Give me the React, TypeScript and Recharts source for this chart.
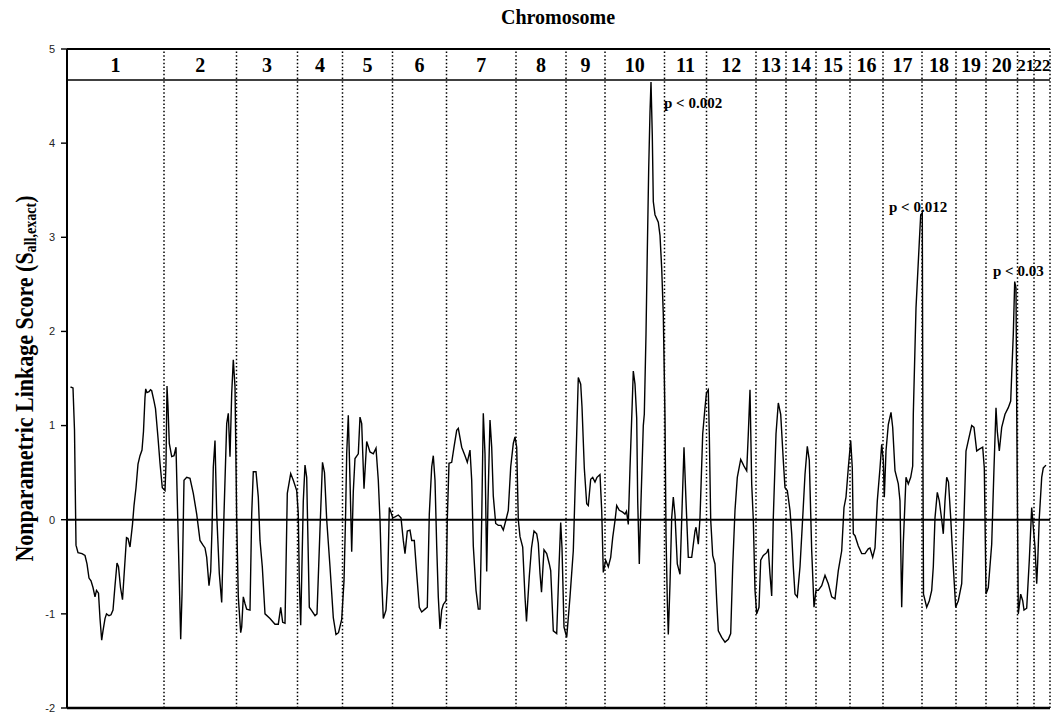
import { LineChart, Line, XAxis, YAxis, ReferenceLine, ReferenceArea, ReferenceDot } from 'recharts';

const SERIF = "'Liberation Serif', 'Times New Roman', serif";

// chromosome names and their widths on the map axis
const chromosomes = ['1', '2', '3', '4', '5', '6', '7', '8', '9', '10', '11', '12', '13', '14', '15', '16', '17', '18', '19', '20', '21', '22'];
const chromLengths = [97, 72.5, 61, 45, 50, 54, 69.5, 50, 39, 59.5, 42, 49.5, 30, 30, 34, 33, 39, 34, 30, 31.5, 16.5, 16];

const yTicks = [-2, -1, 0, 1, 2, 3, 4, 5];
const bandFloor = 4.67;

// [map position, NPL score]
const nplTrace: [number, number][] = [
  // chr 1
  [3.5, 1.41], [6, 1.4], [7.5, 0.95], [9, -0.27], [11, -0.35], [15, -0.36], [18, -0.38], [20, -0.47], [22, -0.62],
  [24, -0.65], [26, -0.72], [28, -0.82], [29.5, -0.75], [31.5, -0.78], [33, -1.05], [34.7, -1.28], [36, -1.18],
  [38, -1.05], [39.5, -1.0], [42, -1.02], [44, -1.01], [46, -0.96], [48, -0.7], [50, -0.46], [51.5, -0.5],
  [53.5, -0.72], [55.5, -0.85], [57, -0.6], [59.5, -0.19], [61, -0.2], [63, -0.29], [65.5, -0.05], [67, 0.15],
  [69, 0.34], [71, 0.59], [73, 0.68], [75, 0.74], [76.5, 0.94], [78, 1.3], [78.7, 1.39], [80, 1.35], [82, 1.36],
  [83.5, 1.38], [84.7, 1.37], [87, 1.26], [88.5, 1.18], [91, 0.87], [93, 0.6], [95.3, 0.34], [98, 0.31],
  // chr 2
  [99, 0.6], [100, 1.42], [101, 1.2], [102.3, 0.81], [104.7, 0.67], [107, 0.68], [109, 0.77], [110.3, 0.2],
  [112.3, -0.65], [113.7, -1.27], [115, -0.8], [117, 0.42], [119.7, 0.45], [123, 0.44], [126.3, 0.28],
  [129.7, 0.06], [133, -0.22], [136, -0.27], [138, -0.3], [139.7, -0.4], [142, -0.7], [143.7, -0.55],
  [145, -0.1], [146.3, 0.56], [148, 0.84], [149.7, 0.06], [152.3, -0.57], [154.7, -0.88], [157, 0.06],
  [159.7, 1.02], [161.3, 1.13], [163, 0.67], [164.7, 1.34], [166.3, 1.7], [168, 1.41], [169.7, 0.0],
  [171.3, -0.82], [173.7, -1.2],
  // chr 3
  [174.7, -1.14], [176.3, -0.82], [178, -0.89], [179.7, -0.95], [183, -0.96], [184.7, 0.06], [186.3, 0.51],
  [189, 0.51], [191.3, 0.24], [193, -0.22], [195.3, -0.5], [198, -1.0], [203, -1.05], [208, -1.11],
  [211.3, -1.11], [213.7, -0.93], [215.7, -1.09], [218, -1.1], [220.3, 0.28], [223.7, 0.49], [226.3, 0.42],
  [229.7, 0.31], [231.3, 0.06], [232.3, -0.65], [233.7, -1.12],
  // chr 4
  [236.3, 0.2], [238, 0.58], [239.7, 0.45], [242.3, -0.93], [245, -0.97], [248, -1.02], [250, -1.0],
  [253, -0.1], [255.5, 0.61], [257.5, 0.5], [259.7, 0.0], [263, -0.5], [266.3, -1.04], [269, -1.22],
  [271.5, -1.2], [274.7, -1.06], [277, -0.65],
  // chr 5
  [278.5, 0.0], [279.7, 0.7], [281.3, 1.11], [283, 0.42], [284.7, -0.34], [286.3, 0.3], [288, 0.65],
  [291.3, 0.7], [293, 1.09], [294.7, 1.02], [297, 0.33], [299.7, 0.83], [303, 0.72], [306.3, 0.7],
  [309, 0.76], [311.3, 0.42], [313, 0.0], [314.7, -0.64], [316.3, -1.05], [319, -0.96], [320.7, -0.65],
  [322.3, 0.13], [324, 0.08], [325.7, 0.02],
  // chr 6
  [328, 0.03], [331.3, 0.05], [334, 0.02], [336.3, -0.22], [338, -0.36], [340.3, -0.12], [343, -0.11],
  [344.7, -0.22], [347.3, -0.22], [349.7, -0.57], [352.3, -0.93], [354.7, -0.98], [358, -0.95],
  [360.3, -0.93], [362.3, 0.06], [364.7, 0.56], [366.3, 0.68], [368, 0.42], [369.7, -0.28], [371.3, -0.82],
  [373, -1.16], [374.7, -0.96], [376.3, -0.9], [379, -0.86], [380.3, 0.0],
  // chr 7
  [382, 0.6], [384.7, 0.61], [387, 0.77], [389.7, 0.95], [391.3, 0.97], [394.7, 0.77], [398, 0.68],
  [400.3, 0.61], [403, 0.74], [404.7, 0.42], [406.3, -0.28], [409, -0.75], [411.3, -0.95], [413, -0.95],
  [414.7, 0.0], [416.3, 1.13], [418, 0.7], [419.7, -0.55], [421, 0.2], [423, 1.06], [424.7, 0.77],
  [426.3, 0.25], [428.7, -0.04], [431.3, -0.06], [434, -0.06], [436.3, -0.11], [439, 0.0], [441.3, 0.1],
  [443.7, 0.56], [446.3, 0.81], [448, 0.88], [449.7, 0.77], [451.3, 0.0],
  // chr 8
  [453, -0.18], [455.7, -0.29], [458, -0.82], [459.5, -1.08], [462.3, -0.6], [464.5, -0.3], [467, -0.12],
  [469.7, -0.15], [471.3, -0.25], [473, -0.57], [474.5, -0.77], [477, -0.32], [479.7, -0.36], [482.3, -0.47],
  [483.7, -0.54], [486.3, -1.18], [489.7, -1.21], [492, -0.5], [493.7, -0.03], [495, -0.3], [497, -1.14],
  [499.7, -1.25], [503, -0.82], [506.3, -0.33], [509.7, 0.91],
  // chr 9
  [511.3, 1.51], [513.7, 1.44], [515, 1.2], [517.3, 0.55], [519.7, 0.17], [521.3, 0.15], [523.7, 0.43],
  [525.7, 0.45], [528, 0.4], [530, 0.45], [533, 0.48], [534.7, 0.1], [536.3, -0.56], [538.7, -0.43],
  [541.3, -0.5],
  // chr 10
  [543.7, -0.4], [545.7, -0.19], [548, -0.01], [549.7, 0.15], [552.3, 0.1], [555.7, 0.08], [558, 0.06],
  [559.5, 0.09], [561.3, -0.05], [563, 0.55], [565.3, 1.26], [566.3, 1.58], [568, 1.44], [569.7, 1.08],
  [570.7, 0.2], [572.3, -0.47], [574, 0.2], [576.3, 1.0], [577.3, 1.12], [579, 1.97], [580.3, 2.85],
  [581.7, 3.73], [583, 4.33], [584, 4.65], [585.3, 4.08], [586.3, 3.38], [588, 3.24], [591.3, 3.16],
  [593, 3.02], [594.7, 2.67], [596.3, 2.18], [598, 1.08], [599, -0.15], [600.3, -0.86], [601.3, -1.22],
  // chr 11
  [603, -0.68], [604.7, 0.02], [606.3, 0.24], [608, 0.05], [610.3, -0.47], [613, -0.58], [614.7, 0.0],
  [617, 0.77], [619, 0.2], [621.3, -0.4], [624.7, -0.4], [628, -0.12], [629, -0.08], [631.3, -0.26],
  [633, 0.02], [635.7, 0.91], [638, 1.19], [639.5, 1.35], [641.3, 1.38],
  // chr 12
  [642.3, 0.91], [643.7, 0.0], [645.7, -0.38], [648, -0.47], [649.7, -0.86], [651.3, -1.18], [654.7, -1.25],
  [658, -1.3], [661.3, -1.27], [663.7, -1.21], [665.7, -0.5], [668, 0.1], [670.3, 0.45], [673.7, 0.64],
  [677, 0.57], [679.7, 0.52], [681.3, 0.91], [683, 1.38], [684.7, 0.38], [686.3, 0.0], [688, -0.75],
  [689.7, -1.0],
  // chr 13
  [692, -0.93], [693.7, -0.43], [696.3, -0.38], [699.7, -0.35], [701.3, -0.31], [703, -0.58], [704.7, -0.81],
  [706.3, 0.02], [709, 0.91], [711.3, 1.24], [713.7, 1.12], [716.3, 0.63], [718, 0.34], [720.3, 0.31],
  // chr 14
  [723, 0.1], [724.7, -0.15], [726.3, -0.5], [728, -0.79], [730.3, -0.82], [733, -0.5], [735.7, 0.02],
  [738, 0.48], [740.3, 0.78], [742.3, 0.63], [744.7, -0.33], [747, -0.93], [749, -0.75],
  // chr 15
  [751.3, -0.75], [754.7, -0.7], [758, -0.59], [761.3, -0.68], [764.7, -0.82], [768, -0.84], [771.3, -0.54],
  [774.7, -0.33], [777, 0.13], [779, 0.24], [781.3, 0.55], [783.7, 0.84], [785.3, 0.55], [786.3, -0.15],
  // chr 16
  [788, -0.17], [791.3, -0.28], [794.7, -0.36], [798, -0.36], [801.3, -0.31], [803, -0.3], [805.7, -0.4],
  [808, -0.3], [810.3, 0.2], [813, 0.55], [814.7, 0.8], [816.3, 0.63], [817.3, 0.24],
  // chr 17
  [819, 0.73], [821.3, 1.01], [824, 1.14], [825.7, 0.98], [828, 0.52], [831.3, 0.38], [833, 0.2],
  [834.7, -0.93], [836.3, -0.25], [839, 0.45], [841.3, 0.38], [843.7, 0.45], [845.7, 0.57], [846.3, 1.12],
  [849, 2.25], [852.3, 2.95], [853.7, 3.24], [855.3, 3.26], [856, 0.5], [856.5, -0.79],
  // chr 18
  [859.7, -0.93], [862.3, -0.86], [864.7, -0.75], [866.3, -0.5], [868, 0.02], [870.3, 0.29], [872.3, 0.2],
  [874.7, 0.0], [876.3, -0.15], [878, 0.2], [879.7, 0.45], [881.5, 0.4], [883.7, 0.02], [886.3, -0.5],
  [888.7, -0.93],
  // chr 19
  [891.3, -0.86], [894.7, -0.68], [897, 0.02], [899, 0.73], [901.3, 0.84], [904.7, 1.0], [907, 0.98],
  [909.7, 0.73], [912.3, 0.75], [915.7, 0.77], [917.3, 0.55], [918.3, -0.22],
  // chr 20
  [919, -0.79], [921.3, -0.72], [924.7, -0.26], [927, 0.55], [929, 1.19], [930.3, 0.94], [932.3, 0.73],
  [934.7, 0.98], [938, 1.12], [941.3, 1.19], [943.7, 1.26], [944.7, 1.54], [946.3, 1.97], [947.7, 2.53],
  [949, 2.46], [949.7, 1.2],
  // chr 21, 22
  [950.7, -0.2], [951.3, -1.0], [953.7, -0.79], [955.7, -0.86], [957, -0.96], [959.7, -0.94], [962.3, -0.43],
  [964.7, 0.13], [966.3, -0.08], [968, -0.29], [969.7, -0.68], [970.7, -0.45], [972.3, 0.02], [974.7, 0.45],
  [976.3, 0.55], [979, 0.58],
];

const peakLabels = [
  { text: 'p < 0.002', pos: 597, score: 4.43 },
  { text: 'p < 0.012', pos: 822, score: 3.32 },
  { text: 'p < 0.03', pos: 926, score: 2.65 },
];

const data = nplTrace.map(([pos, score]) => ({ pos, score }));

const bounds: number[] = [0];
chromLengths.forEach((len, i) => bounds.push(bounds[i] + len));
const mapEnd = bounds[bounds.length - 1];

function YLabel({ viewBox }: any) {
  const cx = 25;
  const cy = viewBox.y + viewBox.height / 2;
  return (
    <g transform={`translate(${cx}, ${cy}) rotate(-90) scale(0.88, 1)`}>
      <text
        x={0}
        y={0}
        textAnchor="middle"
        dominantBaseline="central"
        fontFamily={SERIF}
        fontWeight={700}
        fontSize={25}
        fill="#000"
      >
        Nonparametric Linkage Score (S
        <tspan fontSize={16} dy={6}>all,exact</tspan>
        <tspan dy={-6}>)</tspan>
      </text>
    </g>
  );
}

export default function App() {
  return (
    <div style={{ position: 'absolute', left: 0, top: 0, width: 1056, height: 713, background: '#fff' }}>
      <div
        style={{
          position: 'absolute',
          left: 558,
          top: 6,
          transform: 'translateX(-50%)',
          fontFamily: SERIF,
          fontWeight: 700,
          fontSize: 20,
          color: '#000',
          whiteSpace: 'nowrap',
        }}
      >
        Chromosome
      </div>
      <LineChart width={1056} height={713} data={data} margin={{ top: 49, right: 6, bottom: 5, left: 0 }}>
        <XAxis dataKey="pos" type="number" domain={[0, mapEnd]} hide allowDataOverflow />
        <YAxis
          type="number"
          domain={[-2, 5]}
          ticks={yTicks}
          width={67}
          interval={0}
          axisLine={{ stroke: '#000', strokeWidth: 2 }}
          tickLine={{ stroke: '#000', strokeWidth: 1.4 }}
          tickSize={6}
          tickMargin={6}
          tick={{ fontSize: 11, fill: '#222', fontFamily: 'Arial, Liberation Sans, sans-serif' }}
          label={<YLabel />}
        />
        {chromosomes.map((name, i) => (
          <ReferenceArea
            key={name}
            x1={bounds[i]}
            x2={bounds[i + 1]}
            y1={bandFloor}
            y2={5}
            fill="none"
            stroke="none"
            label={{
              value: name,
              position: 'center',
              fill: '#000',
              fontSize: chromLengths[i] < 20 ? 17 : 20,
              fontWeight: 700,
              fontFamily: SERIF,
            }}
          />
        ))}
        {bounds.slice(1).map((b) => (
          <ReferenceLine key={b} x={b} stroke="#000" strokeWidth={1.5} strokeDasharray="1.5 2.2" />
        ))}
        <ReferenceLine y={5} stroke="#000" strokeWidth={2} />
        <ReferenceLine y={bandFloor} stroke="#000" strokeWidth={1.5} />
        <ReferenceLine y={0} stroke="#000" strokeWidth={2} />
        <ReferenceLine y={-2} stroke="#000" strokeWidth={2.5} />
        <Line
          type="linear"
          dataKey="score"
          stroke="#000"
          strokeWidth={1.4}
          dot={false}
          isAnimationActive={false}
        />
        {peakLabels.map((p) => (
          <ReferenceDot
            key={p.text}
            x={p.pos}
            y={p.score}
            r={0}
            fill="none"
            stroke="none"
            label={{ value: p.text, position: 'right', offset: 0, fill: '#000', fontSize: 15, fontWeight: 700, fontFamily: SERIF }}
          />
        ))}
      </LineChart>
    </div>
  );
}
